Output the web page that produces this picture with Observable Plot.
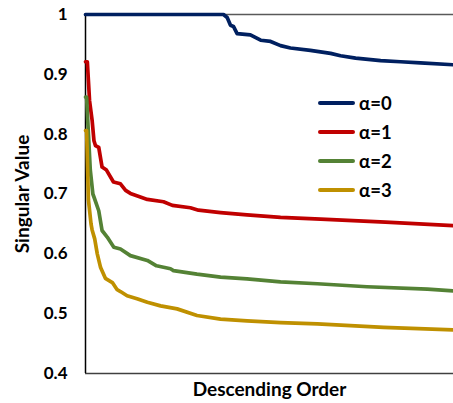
<!DOCTYPE html>
<html>
<head>
<meta charset="utf-8">
<script src="https://cdn.jsdelivr.net/npm/d3@7"></script>
<script src="https://cdn.jsdelivr.net/npm/@observablehq/plot@0.6"></script>
<style>
  html, body { margin: 0; padding: 0; background: #fff; }
  #wrap { position: relative; width: 453px; height: 403px; font-family: Lato, "Open Sans", sans-serif; }
  #wrap g[aria-label="y-axis label"] text,
  #wrap g[aria-label="x-axis label"] text { font-size: 19px; font-weight: bold; }
  .legend { position: absolute; left: 318px; top: 88px; }
  .legend .row { display: flex; align-items: center; height: 29px; }
  .legend .sw { width: 37px; height: 4px; border-radius: 2px; margin-right: 4px; }
  .legend .lb { font-weight: bold; font-size: 18.5px; color: #000; }
</style>
</head>
<body>
<div id="wrap"></div>
<script>
// Singular values (descending order) for each alpha; rank is in percent of the ordering.
const seriesNames = ["α=0", "α=1", "α=2", "α=3"];
const seriesColors = ["#002060", "#C00000", "#548235", "#BF9000"];

const rank0 = [0, 37.5, 38.5, 39.4, 40.2, 41.2, 44.8, 47.6, 50.3, 53, 55.7, 61.1, 66.6, 69.3, 73.4, 80.2, 85.6, 91, 100];
const value0 = [1, 1, 0.995, 0.982, 0.98, 0.968, 0.966, 0.957, 0.955, 0.948, 0.944, 0.940, 0.935, 0.931, 0.927, 0.923, 0.921, 0.919, 0.916];

const rank1 = [0, 0.5, 1.1, 1.8, 2.3, 2.7, 3.6, 4.5, 5.7, 7.6, 9.5, 10.9, 12.2, 14.9, 16.8, 21.2, 23.6, 28.5, 30.7, 36.7, 43.9, 53, 63.9, 81.5, 100];
const value1 = [0.921, 0.921, 0.856, 0.823, 0.789, 0.781, 0.778, 0.745, 0.740, 0.720, 0.717, 0.706, 0.701, 0.695, 0.691, 0.687, 0.681, 0.677, 0.673, 0.669, 0.665, 0.661, 0.658, 0.653, 0.647];

const rank2 = [0, 0.3, 0.8, 1.3, 2.0, 2.3, 3.6, 4.5, 5.9, 7.7, 9.5, 12.2, 16.8, 19.3, 23.1, 23.9, 30.3, 36.7, 43.9, 53, 63, 76.5, 92.9, 100];
const value2 = [0.862, 0.862, 0.80, 0.74, 0.70, 0.695, 0.672, 0.639, 0.628, 0.611, 0.608, 0.597, 0.589, 0.580, 0.575, 0.572, 0.566, 0.561, 0.558, 0.553, 0.550, 0.545, 0.541, 0.538];

const rank3 = [0, 0.3, 0.8, 1.5, 1.8, 2.5, 3.2, 4.1, 5.4, 7.3, 8.6, 9.5, 11.3, 14, 16.8, 20.4, 24.9, 30.3, 36.7, 43.9, 53, 63, 81, 100];
const value3 = [0.806, 0.806, 0.69, 0.65, 0.64, 0.625, 0.60, 0.577, 0.559, 0.552, 0.540, 0.537, 0.530, 0.525, 0.519, 0.513, 0.508, 0.497, 0.491, 0.488, 0.485, 0.483, 0.477, 0.473];

const yTicks = [0.4, 0.5, 0.6, 0.7, 0.8, 0.9, 1];

const ranks = [rank0, rank1, rank2, rank3];
const values = [value0, value1, value2, value3];
const rows = seriesNames.flatMap((name, i) =>
  ranks[i].map((r, j) => ({series: name, rank: r, value: values[i][j]}))
);

const chart = Plot.plot({
  width: 453,
  height: 403,
  marginLeft: 85,
  marginRight: 0,
  marginTop: 14,
  marginBottom: 30,
  style: {fontFamily: "Lato, 'Open Sans', sans-serif", background: "#fff", overflow: "visible"},
  x: {domain: [0, 100]},
  y: {domain: [0.4, 1]},
  color: {domain: seriesNames, range: seriesColors},
  marks: [
    Plot.ruleY([1], {stroke: "#595959", strokeWidth: 1.5}),
    Plot.ruleY([0.4], {stroke: "#404040", strokeWidth: 1.5}),
    Plot.ruleX([0], {stroke: "#000", strokeWidth: 1.5}),
    Plot.axisY({
      ticks: yTicks,
      tickFormat: d => String(d),
      tickSize: 0,
      tickPadding: 18,
      fontSize: 17,
      fontWeight: "bold",
      label: "Singular Value",
      labelAnchor: "center",
      labelArrow: "none",
      labelOffset: 70
    }),
    Plot.axisX({
      ticks: [],
      tickSize: 0,
      fontSize: 17,
      fontWeight: "bold",
      label: "Descending Order",
      labelAnchor: "center",
      labelArrow: "none",
      labelOffset: 22
    }),
    Plot.line(rows, {x: "rank", y: "value", z: "series", stroke: "series", strokeWidth: 3.7, curve: "linear"})
  ]
});

const wrap = document.getElementById("wrap");
wrap.appendChild(chart);

const legend = document.createElement("div");
legend.className = "legend";
seriesNames.forEach((name, i) => {
  const row = document.createElement("div");
  row.className = "row";
  const sw = document.createElement("div");
  sw.className = "sw";
  sw.style.background = seriesColors[i];
  const lb = document.createElement("span");
  lb.className = "lb";
  lb.textContent = name;
  row.appendChild(sw);
  row.appendChild(lb);
  legend.appendChild(row);
});
wrap.appendChild(legend);
</script>
</body>
</html>
